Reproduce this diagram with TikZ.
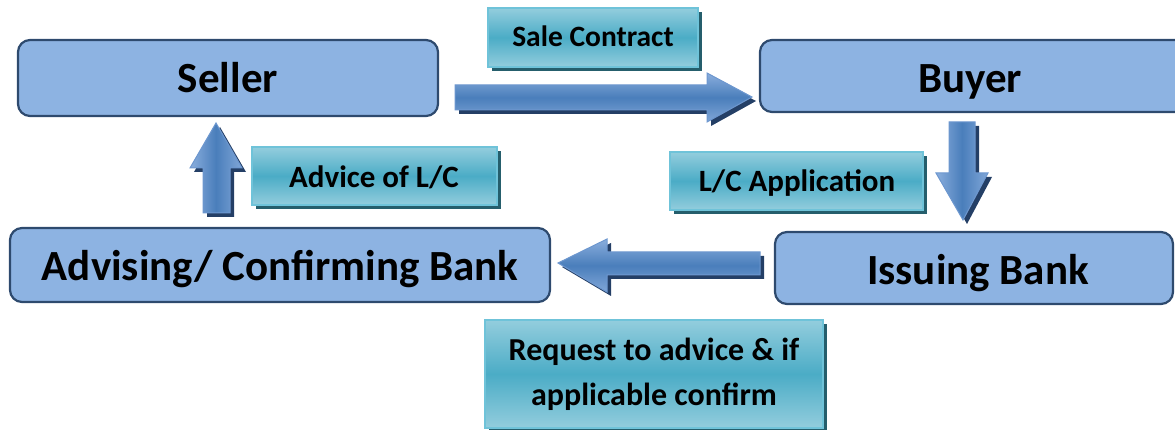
\documentclass[tikz,border=0pt]{standalone}
\usepackage{fontspec}
\setmainfont{Carlito}
\definecolor{boxfill}{HTML}{8DB3E2}
\definecolor{boxline}{HTML}{2E4A6E}
\definecolor{arrlight}{HTML}{8AAEDD}
\definecolor{arrmid}{HTML}{4A7EBB}
\definecolor{arrline}{HTML}{6D97CF}
\definecolor{arrshadow}{HTML}{243F66}
\definecolor{labmid}{HTML}{4BACC6}
\definecolor{lablight}{HTML}{93CDDD}
\definecolor{labline}{HTML}{6FC3D9}
\definecolor{labshadow}{HTML}{255E6C}
\tikzset{
  party/.style={draw=boxline, line width=2.2pt, fill=boxfill, rounded corners=12pt},
  partytext/.style={font=\fontsize{43}{48}\selectfont\bfseries, text=black, anchor=base},
  lab/.style={draw=labline, line width=1.5pt, top color=lablight, bottom color=lablight, middle color=labmid},
  labtext/.style={font=\fontsize{31}{36}\selectfont\bfseries, text=black, anchor=base},
  harrow/.style={draw=arrline, line width=1pt, top color=arrlight, bottom color=arrlight!85!arrmid, middle color=arrmid},
  varrow/.style={draw=arrline, line width=1pt, left color=arrlight, right color=arrlight!85!arrmid, middle color=arrmid},
  ashadow/.style={fill=arrshadow},
}
\begin{document}
\begin{tikzpicture}[x=1pt,y=-1pt]
\useasboundingbox (0,0) rectangle (1175,430);
% party boxes
\path[party] (18,40) rectangle (438,116);
\node[partytext] (seller) at (228,93) {Seller};
\path[party] (760,40) rectangle (1188,112);
\node[partytext] (buyer) at (970,93) {Buyer};
\path[party] (10,228) rectangle (550,302);
\node[partytext] (advbank) at (280,281) {Advising/ Confirming Bank};
\path[party] (775,232) rectangle (1173,304);
\node[partytext] (issbank) at (978,285) {Issuing Bank};
% label boxes with shadows
\fill[labshadow] (492,12) rectangle (702,71);
\path[lab] (488,8) rectangle (698,67);
\node[labtext, font=\fontsize{29.5}{34}\selectfont\bfseries] (sale) at (593,47) {Sale Contract};
\fill[labshadow] (256,151) rectangle (501,209);
\path[lab] (252,147) rectangle (497,205);
\node[labtext] (advice) at (374,188) {Advice of L/C};
\fill[labshadow] (674,156) rectangle (927,214);
\path[lab] (670,152) rectangle (923,210);
\node[labtext] (lcapp) at (797,192) {L/C Application};
\fill[labshadow] (489,324) rectangle (827,432);
\path[lab] (485,320) rectangle (823,428);
\node[labtext, font=\fontsize{32}{36}\selectfont\bfseries] (req1) at (654,360) {Request to advice \& if};
\node[labtext, font=\fontsize{32}{36}\selectfont\bfseries] (req2) at (654,405) {applicable confirm};
% right arrow seller -> buyer
\fill[ashadow] (459,89) -- (711,89) -- (711,77) -- (756,101) -- (711,126) -- (711,114) -- (459,114) -- cycle;
\path[harrow] (455,85) -- (707,85) -- (707,73) -- (752,97) -- (707,122) -- (707,110) -- (455,110) -- cycle;
% down arrow buyer -> issuing
\fill[ashadow] (953,126) -- (979,126) -- (979,177) -- (992,177) -- (967,224) -- (940,177) -- (953,177) -- cycle;
\path[varrow] (949,122) -- (975,122) -- (975,173) -- (988,173) -- (963,220) -- (936,173) -- (949,173) -- cycle;
% left arrow issuing -> advising
\fill[ashadow] (764,256) -- (611,256) -- (611,243) -- (562,267) -- (611,296) -- (611,279) -- (764,279) -- cycle;
\path[harrow] (760,252) -- (607,252) -- (607,239) -- (558,263) -- (607,292) -- (607,275) -- (760,275) -- cycle;
% up arrow advising -> seller
\fill[ashadow] (207,217) -- (234,217) -- (234,172) -- (246,172) -- (220,127) -- (194,172) -- (207,172) -- cycle;
\path[varrow] (203,213) -- (230,213) -- (230,168) -- (242,168) -- (216,123) -- (190,168) -- (203,168) -- cycle;
\end{tikzpicture}
\end{document}
